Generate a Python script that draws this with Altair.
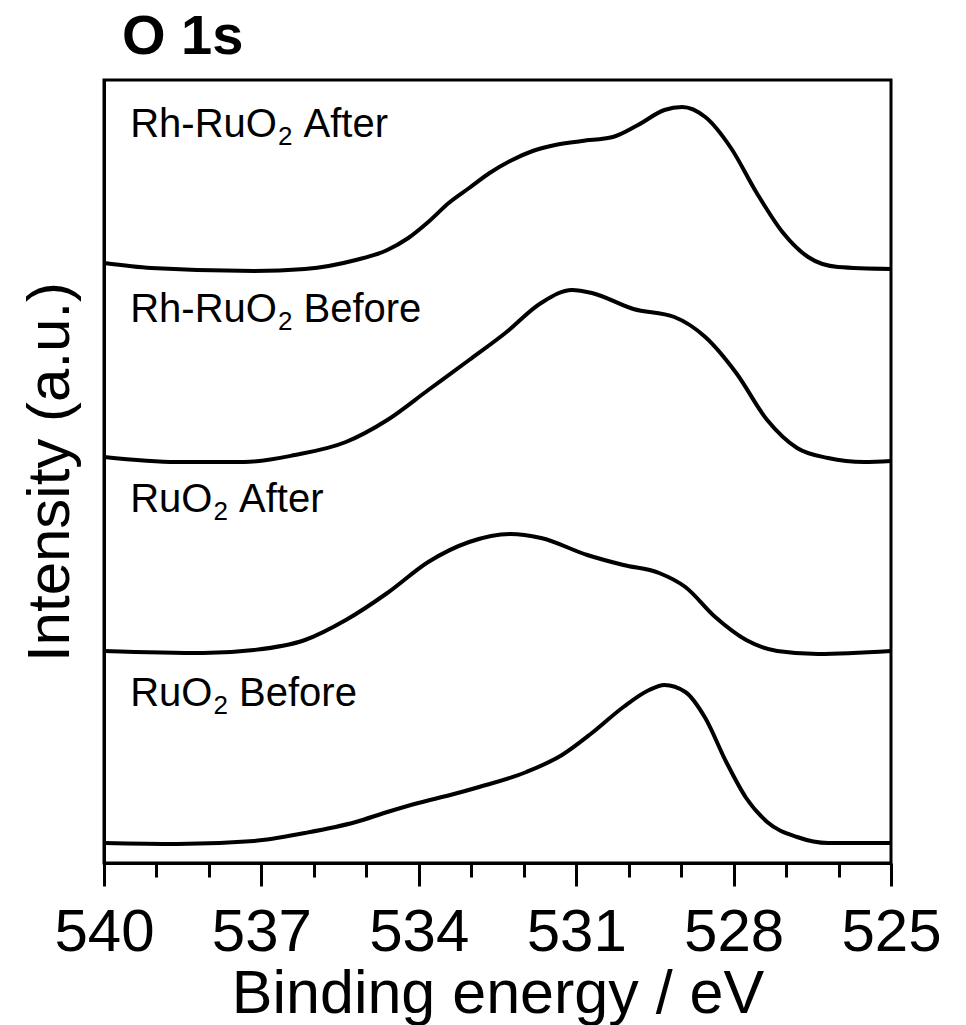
import altair as alt
import pandas as pd

# ---- spectra (binding energy in eV, stacked intensity in a.u.) ----
e_rh_after = [540.0, 539.10, 537.14, 536.17, 535.20, 534.60, 534.20, 533.82, 533.43, 533.04, 532.65,
              532.26, 531.83, 531.40, 530.89, 530.30, 529.82, 529.32, 528.98, 528.54, 528.05,
              527.57, 527.07, 526.58, 526.01, 525.0]
i_rh_after = [600, 595, 592, 594, 603, 613, 625, 641, 660, 675, 690,
              702, 712, 718, 722, 726, 738, 753, 756, 746, 715,
              671, 631, 606, 596, 594]

e_rh_before = [540.0, 538.61, 537.33, 536.36, 535.39, 534.60, 533.82, 533.04, 532.35, 531.67, 531.08,
               530.70, 529.91, 529.13, 528.54, 527.95, 527.36, 526.79, 526.20, 525.51, 525.0]
i_rh_before = [406, 401, 401, 408, 421, 443, 473, 503, 530, 560, 573,
               570, 554, 546, 526, 490, 443, 415, 405, 401, 402]

e_ru_after = [540.0, 538.11, 537.14, 536.17, 535.39, 534.60, 533.82, 533.04, 532.26, 531.67,
              530.79, 530.10, 529.42, 528.92, 528.35, 527.76, 527.17, 526.39, 525.0]
i_ru_after = [212, 210, 213, 223, 243, 270, 301, 321, 329, 325,
              308, 298, 290, 276, 246, 223, 212, 209, 212]

e_ru_before = [540.0, 538.61, 537.14, 536.17, 535.20, 534.60, 534.01, 533.40, 532.85, 531.95, 531.27,
               530.70, 530.10, 529.61, 529.32, 528.92, 528.54, 528.14, 527.76, 527.36, 526.79,
               526.20, 525.0]
i_ru_before = [20, 19, 22, 30, 41, 51, 60, 68, 76, 91, 108,
               130, 156, 173, 178, 171, 145, 101, 65, 41, 26,
               20, 20]

series_names = ["Rh-RuO2 After", "Rh-RuO2 Before", "RuO2 After", "RuO2 Before"]

# ---- labels (prefix, subscript, suffix) ----
label_prefix = ["Rh-RuO", "Rh-RuO", "RuO", "RuO"]
label_sub = ["2", "2", "2", "2"]
label_suffix = ["After", "Before", "After", "Before"]
label_energy = [539.5, 539.5, 539.5, 539.5]
label_intensity = [726, 541, 351, 157]

# ---- axis ----
x_all = list(range(525, 541))

PLOT_W, PLOT_H = 787, 783
LABEL_SIZE, SUB_SIZE = 40, 26
# Arial / Liberation Sans advance widths (per 1000 em)
ADV = {"R": 722, "h": 556, "-": 333, "u": 556, "O": 778, "2": 556, " ": 278}


def text_px(s, size):
    return sum(ADV[c] for c in s) * size / 1000.0


px_per_ev = PLOT_W / 15.0

rows = []
for name, es, iv in zip(series_names,
                        [e_rh_after, e_rh_before, e_ru_after, e_ru_before],
                        [i_rh_after, i_rh_before, i_ru_after, i_ru_before]):
    for e, v in zip(es, iv):
        rows.append({"series": name, "E": e, "I": v})
df = pd.DataFrame(rows)

lab_rows = []
for pre, sub, suf, e0, y0 in zip(label_prefix, label_sub, label_suffix, label_energy, label_intensity):
    e_sub = e0 - (text_px(pre, LABEL_SIZE) + 1) / px_per_ev
    e_suf = e_sub - (text_px(sub, SUB_SIZE) + text_px(" ", LABEL_SIZE)) / px_per_ev
    lab_rows.append({"part": "pre", "txt": pre, "E": e0, "I": y0})
    lab_rows.append({"part": "sub", "txt": sub, "E": e_sub, "I": y0})
    lab_rows.append({"part": "suf", "txt": suf, "E": e_suf, "I": y0})
df_lab = pd.DataFrame(lab_rows)

FONT = "Liberation Sans"

x_scale = alt.Scale(domain=[525, 540], reverse=True, nice=False, zero=False)
y_scale = alt.Scale(domain=[0, PLOT_H], nice=False, zero=False)

x_axis = alt.Axis(
    values=x_all,
    labelExpr="datum.value % 3 === 0 ? datum.label : ''",
    format="d",
    tickSize={"condition": {"test": "datum.value % 3 === 0", "value": 23}, "value": 14},
    tickWidth=3, tickColor="black",
    domain=True, domainWidth=3, domainColor="black",
    grid=False,
    labelFont=FONT, labelFontSize=60, labelColor="black",
    labelPadding=17, labelFlush=False, labelOverlap=False,
    titleFont=FONT, titleFontSize=61, titleFontWeight="normal", titleColor="black",
    titlePadding=2,
)
y_axis = alt.Axis(
    labels=False, ticks=False, grid=False,
    domain=True, domainWidth=3, domainColor="black",
    titleFont=FONT, titleFontSize=60, titleFontWeight="normal", titleColor="black",
    titlePadding=23,
)

lines = alt.Chart(df).mark_line(color="black", strokeWidth=4, interpolate="monotone").encode(
    x=alt.X("E:Q", scale=x_scale, axis=x_axis, title="Binding energy / eV"),
    y=alt.Y("I:Q", scale=y_scale, axis=y_axis, title="Intensity (a.u.)"),
    detail="series:N",
    order=alt.Order("E:Q", sort="descending"),
)

lab_base = alt.Chart(df_lab)
main_text = lab_base.transform_filter("datum.part !== 'sub'").mark_text(
    align="left", baseline="alphabetic", font=FONT, fontSize=LABEL_SIZE, color="black"
).encode(
    x=alt.X("E:Q", scale=x_scale),
    y=alt.Y("I:Q", scale=y_scale),
    text="txt:N",
)
sub_text = lab_base.transform_filter("datum.part === 'sub'").mark_text(
    align="left", baseline="alphabetic", font=FONT, fontSize=SUB_SIZE, color="black", dy=8
).encode(
    x=alt.X("E:Q", scale=x_scale),
    y=alt.Y("I:Q", scale=y_scale),
    text="txt:N",
)

chart = alt.layer(lines, main_text, sub_text).properties(
    width=PLOT_W, height=PLOT_H,
    background="white",
    title=alt.TitleParams("O 1s", anchor="start", frame="group", font=FONT, fontSize=56,
                          fontWeight="bold", color="black", dx=18, offset=14),
    autosize=alt.AutoSizeParams(type="none"),
    padding={"left": 104, "top": 80, "right": 75, "bottom": 162},
).configure_view(stroke="black", strokeWidth=3)

chart.save("out.html", embed_options={"renderer": "svg", "actions": False})
